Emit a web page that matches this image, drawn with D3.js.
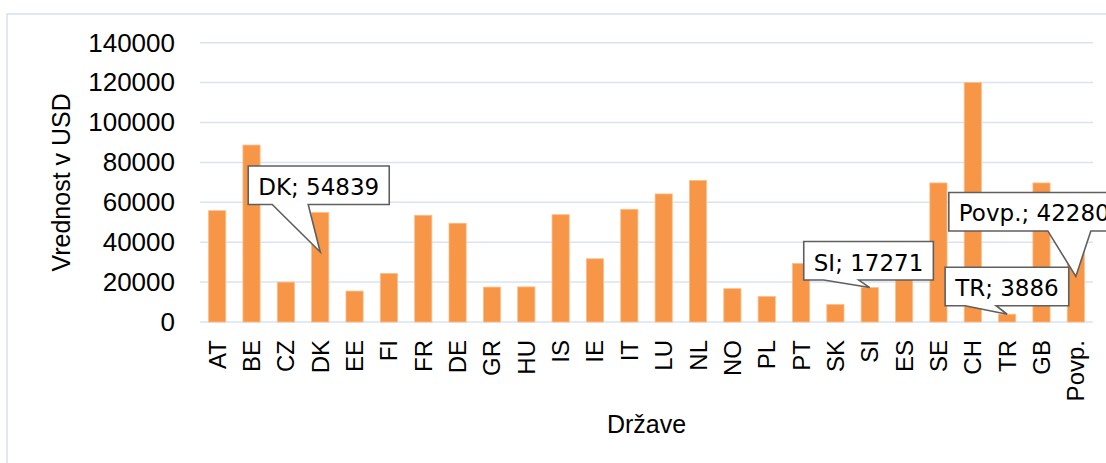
<!DOCTYPE html>
<html>
<head>
<meta charset="utf-8">
<script src="https://cdn.jsdelivr.net/npm/d3@7/dist/d3.min.js"></script>
<style>
  body { margin: 0; background: #fff; }
  svg { display: block; font-family: "Liberation Sans", Arial, sans-serif; }
</style>
</head>
<body>
<script>
// data
var countries = ["AT","BE","CZ","DK","EE","FI","FR","DE","GR","HU","IS","IE","IT","LU","NL","NO","PL","PT","SK","SI","ES","SE","CH","TR","GB","Povp."];
var values = [55800, 88700, 20000, 54839, 15500, 24300, 53500, 49500, 17500, 17600, 53800, 31700, 56500, 64200, 71000, 16700, 12800, 29300, 8800, 17271, 24000, 69700, 120000, 3886, 69700, 42280];
var yTicks = [0, 20000, 40000, 60000, 80000, 100000, 120000, 140000];
var calloutCats = ["DK", "SI", "TR", "Povp."];

var w = 1106, h = 463;
var m = {left: 200, right: 13, top: 42.7, bottom: 141};

var svg = d3.select("body").append("svg")
  .attr("width", w)
  .attr("height", h);

// chart frame (only left/top edge in view)
svg.append("rect")
  .attr("x", 7).attr("y", 14)
  .attr("width", 1200).attr("height", 600)
  .attr("fill", "none")
  .attr("stroke", "#d6e1f0")
  .attr("stroke-width", 1.5);

var x = d3.scaleBand()
  .domain(countries)
  .range([m.left, w - m.right])
  .paddingInner(0.5)
  .paddingOuter(0.25);

var y = d3.scaleLinear()
  .domain([0, 140000])
  .range([h - m.bottom, m.top]);

// gridlines
svg.append("g").selectAll("line")
  .data(yTicks)
  .enter()
  .append("line")
  .attr("x1", m.left)
  .attr("x2", w - m.right)
  .attr("y1", function(d) { return y(d); })
  .attr("y2", function(d) { return y(d); })
  .attr("stroke", "#d9e3f3")
  .attr("stroke-width", 1.5);

// y axis labels
var yAxis = d3.axisLeft(y).tickValues(yTicks).tickFormat(d3.format("d")).tickSize(0).tickPadding(25);
svg.append("g")
  .attr("transform", "translate(" + m.left + ",0)")
  .call(yAxis)
  .call(function(g) { g.select(".domain").remove(); })
  .selectAll("text")
  .attr("font-family", "Liberation Sans, Arial, sans-serif")
  .attr("font-size", "26px")
  .attr("fill", "#000");

// bars
svg.append("g").selectAll("rect")
  .data(values)
  .enter()
  .append("rect")
  .attr("x", function(d, i) { return x(countries[i]); })
  .attr("y", function(d) { return y(d); })
  .attr("width", x.bandwidth())
  .attr("height", function(d) { return y(0) - y(d); })
  .attr("fill", "#f79646")
  .attr("stroke", "#fbbf8c")
  .attr("stroke-width", 0.8);

// x axis labels (rotated)
var xAxis = d3.axisBottom(x).tickSize(0).tickPadding(0);
svg.append("g")
  .attr("transform", "translate(0," + y(0) + ")")
  .call(xAxis)
  .call(function(g) { g.select(".domain").remove(); })
  .selectAll("text")
  .attr("font-family", "Liberation Sans, Arial, sans-serif")
  .attr("font-size", "24px")
  .attr("fill", "#000")
  .attr("text-anchor", "end")
  .attr("dy", null)
  .attr("transform", "translate(8.5,18) rotate(-90)");

// axis titles
svg.append("text")
  .attr("x", (m.left + w - m.right) / 2)
  .attr("y", 433)
  .attr("text-anchor", "middle")
  .attr("font-size", "25px")
  .attr("fill", "#000")
  .text("Države");

svg.append("text")
  .attr("transform", "translate(70," + ((m.top + y(0)) / 2) + ") rotate(-90)")
  .attr("text-anchor", "middle")
  .attr("font-size", "25px")
  .attr("fill", "#000")
  .text("Vrednost v USD");

// callouts: tip fraction of bar height, box offset from tip, tail base along box bottom
var calloutStyle = {
  "DK":    {frac: 0.64, dx: -72,  dy: -86, t1: 24, t2: 60},
  "SI":    {frac: 1.0,  dx: -66,  dy: -46, t1: 20, t2: 55},
  "TR":    {frac: 1.0,  dx: -62,  dy: -47, t1: 20, t2: 51},
  "Povp.": {frac: 0.54, dx: -127, dy: -84, t1: 99, t2: 142}
};

var callouts = svg.append("g");
calloutCats.forEach(function(c) {
  var i = countries.indexOf(c);
  var v = values[i];
  var s = calloutStyle[c];
  var tx = x(c) + x.bandwidth() / 2;
  var ty = y(v * s.frac);
  var bx = tx + s.dx, by = ty + s.dy, bh = 38.5;

  var g = callouts.append("g");
  var path = g.append("path");
  var label = g.append("text")
    .attr("x", bx + 10)
    .attr("y", by + 29)
    .attr("font-family", "DejaVu Sans, sans-serif")
    .attr("font-size", "23px")
    .attr("fill", "#000")
    .text(c + "; " + v);
  var bw = label.node().getComputedTextLength() + 20;

  var p = d3.path();
  p.moveTo(bx, by);
  p.lineTo(bx + bw, by);
  p.lineTo(bx + bw, by + bh);
  p.lineTo(bx + s.t2, by + bh);
  p.lineTo(tx, ty);
  p.lineTo(bx + s.t1, by + bh);
  p.lineTo(bx, by + bh);
  p.closePath();
  path.attr("d", p.toString())
    .attr("fill", "#fff")
    .attr("stroke", "#5f5f5f")
    .attr("stroke-width", 1.6);
});
</script>
</body>
</html>
